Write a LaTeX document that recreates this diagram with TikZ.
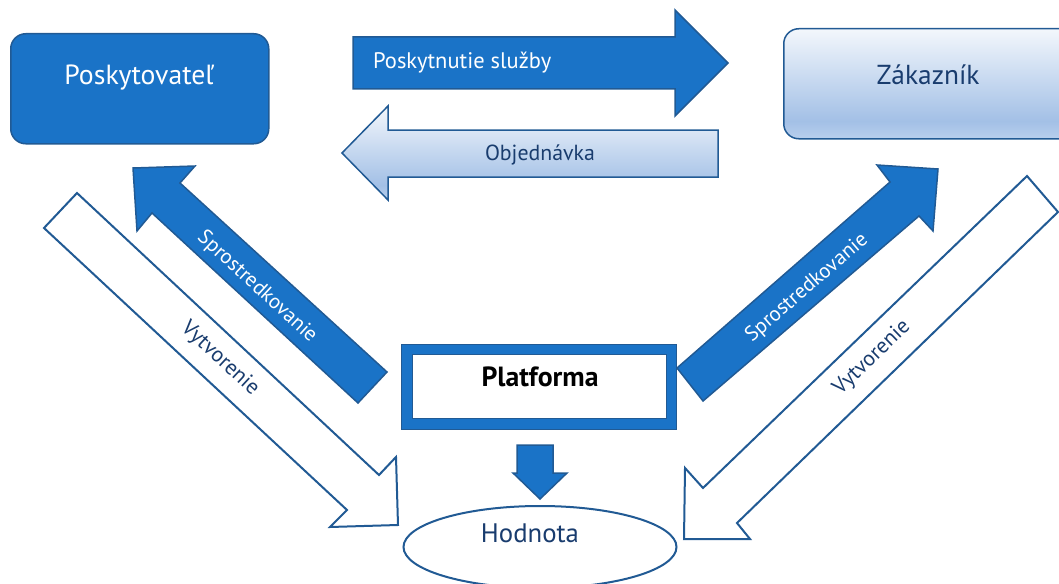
\documentclass[tikz,border=0pt]{standalone}
\usepackage{fontspec}
\setmainfont{PT Sans}
\usetikzlibrary{shapes.geometric}
\definecolor{mblue}{RGB}{26,115,199}
\definecolor{mdark}{RGB}{33,90,148}
\definecolor{mtext}{RGB}{25,60,110}
\definecolor{lbtop}{RGB}{243,247,252}
\definecolor{lbmid}{RGB}{163,192,230}
\definecolor{lbbot}{RGB}{184,207,237}
\pgfdeclareverticalshading{lightgrad}{100bp}{color(0bp)=(lbbot); color(25bp)=(lbbot); color(33bp)=(lbmid); color(75bp)=(lbtop); color(100bp)=(lbtop)}
\newcommand\fitw[2]{\resizebox{#1pt}{!}{#2}}
\begin{document}
\begin{tikzpicture}[x=1pt,y=-1pt,
  bluefill/.style={fill=mblue,draw=mdark,line width=1.5pt,line join=miter},
  lightfill/.style={shading=lightgrad,draw=mdark,line width=1.5pt},
  whitefill/.style={fill=white,draw=mdark,line width=2pt},
  wlabel/.style={text=white,inner sep=0pt},
  dlabel/.style={text=mtext,inner sep=0pt}]
\useasboundingbox (0,0) rectangle (1059,583);
% boxes
\node[bluefill, rounded corners=15pt, minimum width=258pt, minimum height=110pt, inner sep=0pt, anchor=north west] (prov) at (10,33) {};
\node[lightfill, rounded corners=15pt, minimum width=300pt, minimum height=110pt, inner sep=0pt, anchor=north west] (cust) at (783,28) {};
\node[wlabel] (provt) at (139,78) {\fitw{149}{Poskytovateľ}};
\node[dlabel] (custt) at (928,75) {\fitw{103}{Zákazník}};
% horizontal arrows
\draw[bluefill] (353,37) -- (675,37) -- (675,10) -- (728,63) -- (675,116) -- (675,89) -- (353,89) -- cycle;
\node[wlabel, anchor=west] (serv) at (373,63) {\fitw{178}{Poskytnutie služby}};
\draw[lightfill] (718,130) -- (388,130) -- (388,106) -- (342,153) -- (388,200) -- (388,177) -- (718,177) -- cycle;
\node[dlabel] (ordr) at (540,155) {\fitw{110}{Objednávka}};
% diagonal arrows
\draw[bluefill] (387,372) -- (180,183) -- (195,166) -- (133,168) -- (137,231) -- (152,213) -- (358,403) -- cycle;
\node[wlabel, rotate=-42.5] (lsp) at (257,287) {\fitw{154}{Sprostredkovanie}};
\draw[whitefill] (77,193) -- (379,475) -- (396,457) -- (398,525) -- (330,527) -- (347,510) -- (44,228) -- cycle;
\node[dlabel, rotate=-43] (lvy) at (220,359) {\fitw{98}{Vytvorenie}};
\draw[bluefill] (677,368) -- (890,182) -- (877,165) -- (938,169) -- (933,231) -- (919,216) -- (703,401) -- cycle;
\node[wlabel, rotate=40.8] (rsp) at (807,288) {\fitw{154}{Sprostredkovanie}};
\draw[whitefill] (1027,176) -- (703,488) -- (685,468) -- (684,539) -- (750,539) -- (737,523) -- (1058,212) -- cycle;
\node[dlabel, rotate=44] (rvy) at (872,358) {\fitw{98}{Vytvorenie}};
% platform
\node[fill=mblue, draw=mdark, line width=1pt, minimum width=275pt, minimum height=85pt, inner sep=0pt, anchor=north west] (platf) at (401,344) {};
\node[fill=white, draw=mdark, line width=1pt, minimum width=254pt, minimum height=64pt, inner sep=0pt, anchor=north west] (platin) at (412,354) {};
\node[inner sep=0pt, font=\bfseries] (platt) at (540,377) {\fitw{117}{Platforma}};
% down arrow
\draw[bluefill] (517,445) -- (553,445) -- (553,473) -- (567,473) -- (540,499) -- (513,473) -- (517,473) -- cycle;
% value
\node[draw=mdark, line width=2pt, fill=white, ellipse, minimum width=273pt, minimum height=82pt, inner sep=0pt] (val) at (540,547) {};
\node[dlabel] (valt) at (530,533) {\fitw{98}{Hodnota}};
\end{tikzpicture}
\end{document}
